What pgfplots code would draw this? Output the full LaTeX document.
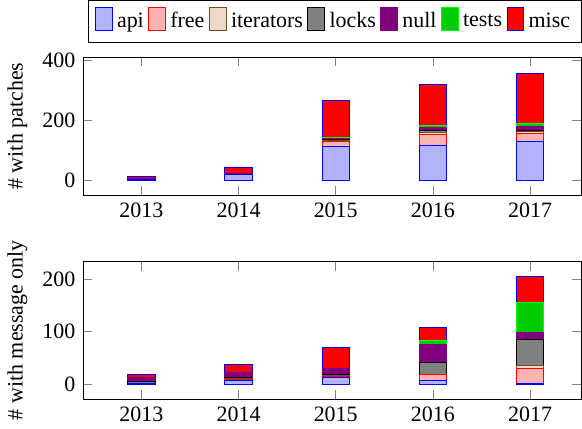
\documentclass[border=0pt]{standalone}
\usepackage{fontspec}
\setmainfont{Liberation Serif}
\usepackage{pgfplots}
\usepackage{pgfplotstable}
\pgfplotsset{compat=1.18}

\pgfplotstableread{
year api free iterators locks null tests misc
2013 4 1 0 0 1 0 6
2014 19 1 0 1 1 1 22
2015 112 18 2 3 4 4 123
2016 118 34 9 4 11 8 135
2017 130 27 5 5 13 8 167
}\patches

\pgfplotstableread{
year api free iterators locks null tests misc
2013 2 0 0 3 7 0 6
2014 7 2 2 2 10 0 14
2015 12 3 1 2 11 0 41
2016 7 11 1 23 33 8 24
2017 2 27 7 49 13 57 49
}\msgonly

\pgfplotsset{
  mybars/.style={
    ybar stacked,
    scale only axis,
    width=227pt, height=62.8pt,
    bar width=12.4pt,
    xmin=2012.4, xmax=2017.53,
    xtick={2013,2014,2015,2016,2017},
    /pgf/number format/1000 sep={},
    /pgf/number format/assume math mode=true,
    tick label style={font=\rmfamily\normalsize},
    label style={font=\rmfamily\normalsize},
  },
}

\begin{document}
\begin{tikzpicture}[font=\rmfamily]
\begin{axis}[mybars,
  name=top,
  ymin=-48, ymax=409,
  ytick={0,200,400},
  ylabel={\# with patches},
  legend columns=-1,
  legend image code/.code={\draw[#1] (0cm,-0.13cm) rectangle (0.27cm,0.23cm);},
  legend style={at={(1,1)}, anchor=south east, yshift=6.6pt, draw=black,
    font=\rmfamily\normalsize, inner ysep=3pt},
]
\addplot[draw=blue, fill=blue!30!white] table[x=year,y=api]{\patches};
\addplot[draw=red, fill=red!30!white] table[x=year,y=free]{\patches};
\addplot[draw=brown!60!black, fill=brown!30!white] table[x=year,y=iterators]{\patches};
\addplot[draw=black, fill=gray] table[x=year,y=locks]{\patches};
\addplot[draw=violet, fill=violet] table[x=year,y=null]{\patches};
\addplot[draw=green, fill=green!80!black] table[x=year,y=tests]{\patches};
\addplot[draw=blue, fill=red] table[x=year,y=misc]{\patches};
\legend{api,free,iterators,locks,null,tests,misc}
\end{axis}
\begin{axis}[mybars,
  at={(top.south west)}, anchor=north west, yshift=-30.1pt,
  ymin=-28.5, ymax=234,
  ytick={0,100,200},
  ylabel={\# with message only},
]
\addplot[draw=blue, fill=blue!30!white] table[x=year,y=api]{\msgonly};
\addplot[draw=red, fill=red!30!white] table[x=year,y=free]{\msgonly};
\addplot[draw=brown!60!black, fill=brown!30!white] table[x=year,y=iterators]{\msgonly};
\addplot[draw=black, fill=gray] table[x=year,y=locks]{\msgonly};
\addplot[draw=violet, fill=violet] table[x=year,y=null]{\msgonly};
\addplot[draw=green, fill=green!80!black] table[x=year,y=tests]{\msgonly};
\addplot[draw=blue, fill=red] table[x=year,y=misc]{\msgonly};
\end{axis}
\end{tikzpicture}
\end{document}
